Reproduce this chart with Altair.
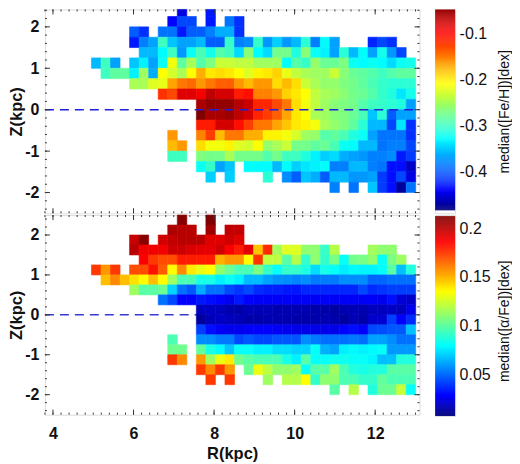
import altair as alt
import pandas as pd

# Rows run from Z = 2.25..2.5 (first) down to Z = -2..-1.75 (last). None = empty bin.
N = None
feh_rows = [
 (9,[-.45,N,N,-.43]),
 (8,[-.44,-.41,-.41,N,-.43,N,-.39,-.42]),
 (4,[-.40,-.42,N,-.39,-.39,-.43,-.40,-.40,-.385,-.365,-.365,-.42]),
 (4,[-.43,-.385,-.37,-.30,-.355,-.37,-.37,-.36,-.40,-.40,-.305,-.385,-.38,-.305,-.375,-.35,-.375,-.36,-.31,-.385,-.33,-.37,N,N,N,-.425,-.41,-.42]),
 (5,[-.36,-.36,-.33,-.30,-.375,-.325,-.295,-.32,-.29,-.30,-.345,-.265,-.33,-.345,-.275,-.275,-.315,-.265,-.325,-.335,-.37,-.31,-.36,-.33,-.37,-.32,-.375,-.41]),
 (0,[-.36,-.30,-.37,N,-.355,-.335,-.37,-.325,-.215,-.285,-.25,-.29,-.27,-.235,-.235,-.24,-.24,-.255,-.255,-.255,-.33,-.29,-.305,-.26,-.28,-.28,-.27,-.325,-.33,-.325,-.33,-.345,-.325,-.32]),
 (1,[-.30,-.285,-.285,-.335,-.255,-.365,-.21,-.23,-.25,-.21,-.175,-.20,-.195,-.20,-.21,-.225,-.205,-.20,-.19,-.22,-.24,-.25,-.255,-.255,-.235,-.265,-.28,-.285,-.29,-.30,-.29,-.285,-.285]),
 (4,[-.25,-.25,-.225,-.22,-.17,-.15,-.145,-.165,-.15,-.14,-.14,-.165,-.18,-.165,-.165,-.195,-.18,-.195,-.235,-.25,-.26,-.26,-.27,-.275,-.285,-.295,-.305,-.31,-.31,-.31]),
 (7,[-.12,-.13,-.085,-.085,-.095,-.07,-.08,-.08,-.11,-.105,-.155,-.155,-.165,-.19,-.20,-.21,-.24,-.25,-.255,-.265,-.275,-.28,-.29,-.305,-.315,-.34,-.32]),
 (11,[-.06,-.05,-.05,-.05,-.065,-.075,-.115,-.115,-.13,-.15,-.195,-.215,-.24,-.255,-.265,-.27,-.275,-.29,-.30,-.305,-.31,-.315,-.37]),
 (11,[-.04,-.06,-.06,-.055,-.07,-.08,-.115,-.125,-.14,-.17,-.20,-.21,-.25,-.255,-.265,-.27,-.28,-.295,-.355,-.31,-.40,-.37,-.37]),
 (11,[-.11,-.11,-.08,-.08,-.105,-.125,-.15,-.15,-.17,-.185,-.20,-.205,-.215,-.25,-.26,-.27,-.285,-.31,-.36,-.36,-.41,-.34,-.42]),
 (8,[-.165,N,N,-.155,-.125,-.18,-.15,-.15,-.175,-.175,-.205,-.205,-.215,-.23,-.255,-.26,-.29,-.285,-.295,-.315,-.325,-.37,-.39,-.39,-.39,-.42]),
 (8,[-.18,-.165,N,-.195,-.215,-.215,-.205,-.225,-.23,-.21,-.26,-.25,-.235,-.275,-.275,-.285,-.28,-.295,-.325,-.33,-.36,-.36,-.39,-.385,-.385,-.41]),
 (8,[-.30,-.30,N,-.27,-.275,-.275,-.25,-.275,-.275,-.275,-.29,-.275,-.30,-.30,-.315,-.335,-.35,-.345,-.365,-.37,-.375,-.385,-.385,-.38,-.43,-.415]),
 (11,[-.325,-.305,-.37,-.355,N,-.33,-.33,-.33,-.36,-.33,-.35,-.34,-.335,-.33,-.385,-.385,-.36,-.36,-.385,-.39,-.435,-.435,-.46]),
 (12,[-.35,N,-.35,N,N,N,-.31,N,-.38,-.40,-.355,-.365,-.40,-.36,-.36,-.375,-.375,-.37,-.415,-.435,-.41,-.45]),
 (25,[-.385,N,-.39,N,-.355,-.415,-.435,-.475,-.39]),
]
afe_rows = [
 (9,[.21,N,N,.212]),
 (8,[.203,.20,.20,N,.205,N,.198,.198]),
 (4,[.197,.21,N,.195,.198,.20,.20,.20,.192,.192,.195,.192]),
 (4,[.20,.188,.188,.188,.196,.196,.193,.191,.191,.195,.186,.18,.191,.146,.177,.114,.127,.127,.11,.11,.091,.118,N,N,N,.114,.11,.11]),
 (5,[.186,.174,.17,.17,.18,.18,.18,.18,.15,.155,.155,.135,.175,.12,.12,.098,.118,.09,.11,.09,.105,.08,.103,.105,.11,.08,.105,.113]),
 (0,[.174,.155,.174,N,.17,.17,.182,.167,.134,.158,.138,.13,.134,.11,.102,.095,.095,.106,.09,.08,.09,.09,.085,.072,.083,.08,.075,.078,.077,.077,.079,.098,.066,.086]),
 (1,[.147,.158,.147,.14,.134,.147,.134,.113,.095,.095,.084,.084,.076,.081,.076,.065,.065,.06,.057,.056,.054,.056,.052,.052,.052,.056,.056,.056,.048,.048,.05,.05,.05]),
 (4,[.113,.098,.098,.102,.07,.05,.045,.062,.05,.05,.042,.038,.042,.036,.034,.034,.032,.032,.035,.035,.035,.035,.035,.035,.042,.036,.038,.04,.04,.04]),
 (7,[.05,.042,.027,.027,.032,.03,.028,.025,.032,.027,.026,.026,.026,.026,.026,.026,.026,.026,.026,.026,.026,.026,.026,.025,.03,.021,.019]),
 (11,[.017,.018,.017,.015,.014,.016,.016,.016,.015,.015,.015,.015,.014,.014,.013,.015,.016,.015,.017,.017,.018,.017,.024]),
 (11,[.012,.016,.018,.017,.016,.014,.014,.015,.015,.015,.014,.014,.014,.015,.014,.012,.016,.014,.019,.02,.04,.027,.036]),
 (11,[.04,.03,.026,.025,.025,.026,.027,.027,.026,.025,.024,.024,.024,.024,.024,.028,.03,.027,.042,.043,.045,.045,.066]),
 (8,[.095,N,N,.056,.056,.052,.052,.042,.045,.042,.042,.045,.045,.045,.056,.052,.05,.05,.05,.052,.05,.06,.06,.056,.05,.05]),
 (8,[.103,.103,N,.10,.084,.078,.067,.08,.08,.076,.076,.072,.072,.07,.07,.08,.063,.06,.076,.078,.076,.078,.08,.058,.058,.058]),
 (8,[.174,.158,N,.155,.113,.13,.138,.103,.098,.095,.095,.095,.084,.076,.098,.08,.08,.082,.082,.08,.08,.077,.066,.066,.086,.086]),
 (11,[.174,.158,.174,.155,N,.102,.13,.12,.11,.11,.113,.08,.098,.098,.113,.095,.086,.084,.086,.086,.098,.098,.098]),
 (12,[.174,N,.174,N,N,N,.113,N,.118,.118,.134,.09,.11,.11,.095,.095,.09,.09,.1,.095,.095,.095]),
 (25,[.098,N,.118,N,.086,.102,.102,.122,.08]),
]
JET = ["#00007f", "#0000ff", "#00ffff", "#ffff00", "#ff0000", "#7f0000"]
JET_T = [0, 0.10, 0.35, 0.62, 0.87, 1]
FEH_RANGE = (-0.485, -0.041)
AFE_RANGE = (0.007, 0.212)
R_START, R_STEP = 4.955, 0.2368
Z_TOP, Z_STEP = 2.5, 0.25
X_MAJOR = [4, 6, 8, 10, 12]
Y_MAJOR = [-2, -1, 0, 1, 2]
X_MINOR = [round(3.8 + 0.2 * i, 1) for i in range(47)]
Y_MINOR = [round(-2.4 + 0.2 * i, 1) for i in range(25)]
FEH_TICKS = [-0.4, -0.3, -0.2, -0.1]
AFE_TICKS = [0.05, 0.1, 0.15, 0.2]

FONT = "Liberation Sans"
FRAME = "#777777"
W = 375.3
XS = alt.Scale(domain=[3.8, 13.1], nice=False, zero=False)
INK = "#111111"


def frame(rows):
    out = []
    for r, (start, vals) in enumerate(rows):
        for i, v in enumerate(vals):
            if v is None:
                continue
            c = start + i
            out.append(dict(r0=R_START + c * R_STEP, r1=R_START + (c + 1) * R_STEP,
                            z0=Z_TOP - r * Z_STEP, z1=Z_TOP - (r + 1) * Z_STEP, v=v))
    return pd.DataFrame(out)


def color_scale(rng):
    lo, hi = rng
    return alt.Scale(domain=[lo + t * (hi - lo) for t in JET_T], range=JET,
                     interpolate="rgb", clamp=True)


def panel(rows, rng, H, z_hi, show_x, line_color, line_on_top):
    cs = color_scale(rng)
    ys = alt.Scale(domain=[-2.5, z_hi], nice=False, zero=False, clamp=True)
    x_axis = alt.Axis(values=X_MAJOR, title="R(kpc)", grid=False, ticks=False, domain=False,
                      labelFontSize=16, labelFontWeight="bold", labelFont=FONT, labelPadding=11,
                      labelColor=INK, titleFont=FONT, titleFontSize=16.5,
                      titleFontWeight="bold", titleColor=INK, titlePadding=4,
                      labelFlush=False) if show_x else None
    y_axis = alt.Axis(values=Y_MAJOR, title="Z(kpc)", grid=False, ticks=False, domain=False,
                      labelFontSize=16, labelFontWeight="bold", labelFont=FONT, labelPadding=6,
                      labelColor=INK, labelExpr="'' + datum.value", titleFont=FONT,
                      titleFontSize=16.5, titleFontWeight="bold", titleColor=INK,
                      titleBaseline="middle", titleX=-28.4, titleY=H / 2)
    X = lambda f: alt.X(f, scale=XS, axis=x_axis)
    Y = lambda f: alt.Y(f, scale=ys, axis=y_axis)
    cells = alt.Chart(frame(rows)).mark_rect(strokeWidth=0.6).encode(
        x=X("r0:Q"), x2="r1:Q", y=Y("z0:Q"), y2="z1:Q",
        color=alt.Color("v:Q", scale=cs, legend=None),
        stroke=alt.Stroke("v:Q", scale=cs, legend=None))
    line = alt.Chart(pd.DataFrame({"z": [0]})).mark_rule(
        color=line_color, strokeWidth=1.5, strokeDash=[9, 6]).encode(
        y=Y("z:Q"), x=alt.value(0), x2=alt.value(W))
    ticks = []
    for vals, size in ((X_MAJOR, 5), (X_MINOR, 2)):
        d = pd.DataFrame({"t": vals})
        for y0, y1 in ((H, H - size), (0, size)):
            ticks.append(alt.Chart(d).mark_rule(color="#333333", strokeWidth=1).encode(
                x=X("t:Q"), y=alt.value(y0), y2=alt.value(y1)))
    for vals, size in ((Y_MAJOR, 5), (Y_MINOR, 2)):
        d = pd.DataFrame({"t": vals})
        for x0, x1 in ((0, size), (W, W - size)):
            ticks.append(alt.Chart(d).mark_rule(color="#333333", strokeWidth=1).encode(
                y=Y("t:Q"), x=alt.value(x0), x2=alt.value(x1)))
    order = [cells, line] if line_on_top else [line, cells]
    return alt.layer(*order, *ticks).properties(width=W, height=H)


def bar(rng, ticks, title, H, bar_len, px_above, px_below, title_x, title_y):
    lo, hi = rng
    per_px = (hi - lo) / bar_len
    dom = [lo - px_below * per_px, hi + px_above * per_px]
    step = (hi - lo) / 200
    ax = alt.Axis(values=ticks, orient="right", title=title, grid=False, ticks=False,
                  domain=False, labelFontSize=16, labelFont=FONT, labelColor=INK,
                  labelExpr="'' + datum.value", labelPadding=4, titleFont=FONT, titleFontSize=14,
                  titleFontWeight="normal", titleColor=INK, titleAngle=270,
                  titleBaseline="middle", titleX=title_x, titleY=title_y)
    return (alt.Chart(alt.sequence(0, 200, 1, as_="i"))
            .transform_calculate(a=f"{lo} + datum.i * {step}", b=f"{lo} + (datum.i + 1.2) * {step}")
            .mark_rect()
            .encode(y=alt.Y("a:Q", scale=alt.Scale(domain=dom, nice=False, zero=False, clamp=True), axis=ax),
                    y2="b:Q",
                    color=alt.Color("a:Q", scale=color_scale(rng), legend=None))
            .properties(width=20, height=H))


top = alt.hconcat(panel(feh_rows, FEH_RANGE, 204.2, 2.42, False, "#2020d8", True),
                  bar(FEH_RANGE, FEH_TICKS, "median([Fe/H])[dex]", 204.2, 204.6, -3.3, 2.9, 49, 102),
                  spacing=13)
bottom = alt.hconcat(panel(afe_rows, AFE_RANGE, 200, 2.5, True, "#3a3ad0", False),
                     bar(AFE_RANGE, AFE_TICKS, "median([\u03b1/Fe])[dex]", 201.3, 200, 1.3, 0, 49, 106),
                     spacing=13)
chart = (alt.vconcat(top, bottom, spacing=-5)
         .resolve_scale(color="independent", stroke="independent")
         .properties(padding={"left": 0, "top": 0, "right": 0, "bottom": 0})
         .configure_view(stroke=FRAME, strokeWidth=1.2)
         .configure(background="white"))
chart.save("out.html", embed_options={"renderer": "svg", "actions": False})
